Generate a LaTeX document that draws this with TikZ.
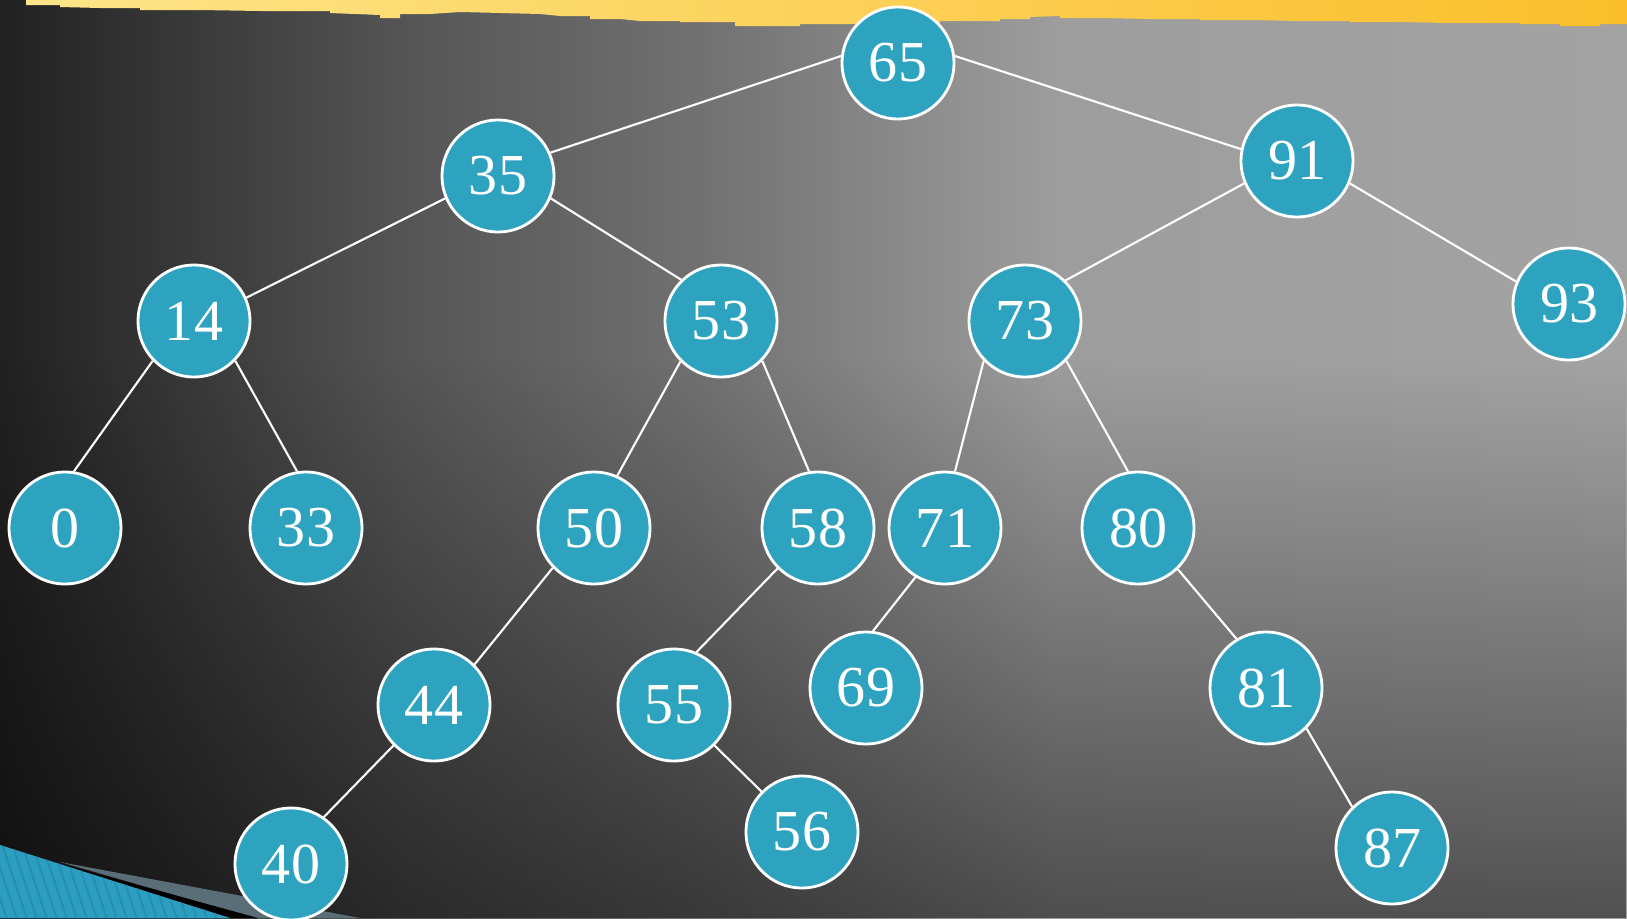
\documentclass[tikz,border=0pt]{standalone}
\usepackage{fontspec}
\setmainfont{Liberation Serif}
\usetikzlibrary{fadings}

\definecolor{nodeblue}{HTML}{2DA3C0}
\definecolor{bgA}{HTML}{212121}
\definecolor{bgB}{HTML}{555555}
\definecolor{bgC}{HTML}{717171}
\definecolor{bgD}{HTML}{898989}
\definecolor{bgE}{HTML}{9D9D9D}
\definecolor{bgF}{HTML}{A3A3A3}
\definecolor{bandL}{HTML}{FDE589}
\definecolor{bandM}{HTML}{FCD03C}
\definecolor{bandR}{HTML}{FBBE2A}
\definecolor{wedgeblue}{HTML}{2C9EC0}
\definecolor{stripeblue}{HTML}{268FB2}
\definecolor{wedgegray}{HTML}{5A6E78}

\pgfdeclarehorizontalshading{bgshade}{100bp}{color(0bp)=(bgA); color(25bp)=(bgA);
  color(37.5bp)=(bgB); color(46.5bp)=(bgC); color(52.5bp)=(bgD);
  color(57.5bp)=(bgE); color(75bp)=(bgF); color(100bp)=(bgF)}
\tikzfading[name=fade bottom, top color=transparent!100, bottom color=transparent!50]

\tikzset{
  key/.style={circle, draw=white, line width=0.8pt, fill=nodeblue, text=white,
    minimum size=1.12cm, inner sep=0pt, font=\fontsize{16.5pt}{19pt}\selectfont},
  link/.style={draw=white, line width=0.6pt}
}

\begin{document}
\begin{tikzpicture}[x=0.01cm, y=-0.01cm]
  \useasboundingbox (0,0) rectangle (1627,918);
  \clip (0,0) rectangle (1627,918);

  % background
  \shade[shading=bgshade] (0,0) rectangle (1627,918);
  \fill[black, path fading=fade bottom] (0,360) rectangle (1627,918);

  % yellow band on top
  \shade[left color=bandL, middle color=bandM, right color=bandR]
    (26,0) -- (1627,0) -- (1627,24) -- (1600,24) -- (1600,26) -- (1560,26) -- (1560,24)
    -- (1520,24) -- (1520,23) -- (1450,23) -- (1400,22) -- (1350,22) -- (1350,21)
    -- (1300,21) -- (1250,20) -- (1200,20) -- (1200,19) -- (1150,19) -- (1100,18)
    -- (1060,18) -- (1060,16) -- (1030,17) -- (1030,19) -- (1000,19) -- (1000,21)
    -- (940,21) -- (940,23) -- (900,23) -- (850,24) -- (800,24) -- (800,26)
    -- (735,26) -- (735,22) -- (680,22) -- (680,21) -- (640,21) -- (620,19)
    -- (590,19) -- (590,16) -- (560,16) -- (540,14) -- (500,13) -- (460,12)
    -- (430,14) -- (400,14) -- (400,18) -- (380,18) -- (380,15) -- (330,13)
    -- (330,11) -- (260,11) -- (200,10) -- (140,10) -- (140,8) -- (100,8)
    -- (60,7) -- (60,5) -- (26,5) -- cycle;

  % corner wedges
  \fill[wedgegray] (60,862) -- (360,918) -- (255,918) -- cycle;
  \fill[black] (50,861) -- (258,918) -- (230,918) -- cycle;
  \fill[wedgeblue] (0,845) -- (230,918) -- (0,918) -- cycle;
  \begin{scope}
    \clip (0,845) -- (230,918) -- (0,918) -- cycle;
    \foreach \s in {-40,-30,...,240}
      \draw[stripeblue, line width=0.6pt] (\s,838) -- ++(30,90);
  \end{scope}

  % keys
  \node[key] (k65) at (898,63) {65};
  \node[key] (k35) at (498,176) {35};
  \node[key] (k91) at (1297,161) {91};
  \node[key] (k14) at (194,321) {14};
  \node[key] (k53) at (721,321) {53};
  \node[key] (k73) at (1025,321) {73};
  \node[key] (k93) at (1569,304) {93};
  \node[key] (k0) at (65,528) {0};
  \node[key] (k33) at (306,528) {33};
  \node[key] (k50) at (594,528) {50};
  \node[key] (k58) at (818,528) {58};
  \node[key] (k71) at (945,528) {71};
  \node[key] (k80) at (1138,528) {80};
  \node[key] (k44) at (434,705) {44};
  \node[key] (k55) at (674,705) {55};
  \node[key] (k69) at (866,688) {69};
  \node[key] (k81) at (1266,688) {81};
  \node[key] (k40) at (291,864) {40};
  \node[key] (k56) at (802,832) {56};
  \node[key] (k87) at (1392,848) {87};

  % links
  \draw[link] (k65.173) -- (k35.24);
  \draw[link] (k65.7) -- (k91.168);
  \draw[link] (k35.203) -- (k14.24);
  \draw[link] (k35.337) -- (k53.134);
  \draw[link] (k14.224) -- (k0.81);
  \draw[link] (k14.316) -- (k33.99);
  \draw[link] (k53.225) -- (k50.66);
  \draw[link] (k53.316) -- (k58.99);
  \draw[link] (k50.224) -- (k44.45);
  \draw[link] (k44.225) -- (k40.55);
  \draw[link] (k58.225) -- (k55.67);
  \draw[link] (k55.315) -- (k56.135);
  \draw[link] (k91.203) -- (k73.45);
  \draw[link] (k91.337) -- (k93.157);
  \draw[link] (k73.224) -- (k71.80);
  \draw[link] (k73.316) -- (k80.100);
  \draw[link] (k71.239) -- (k69.83);
  \draw[link] (k80.314) -- (k81.121);
  \draw[link] (k81.315) -- (k87.134);
\end{tikzpicture}
\end{document}
